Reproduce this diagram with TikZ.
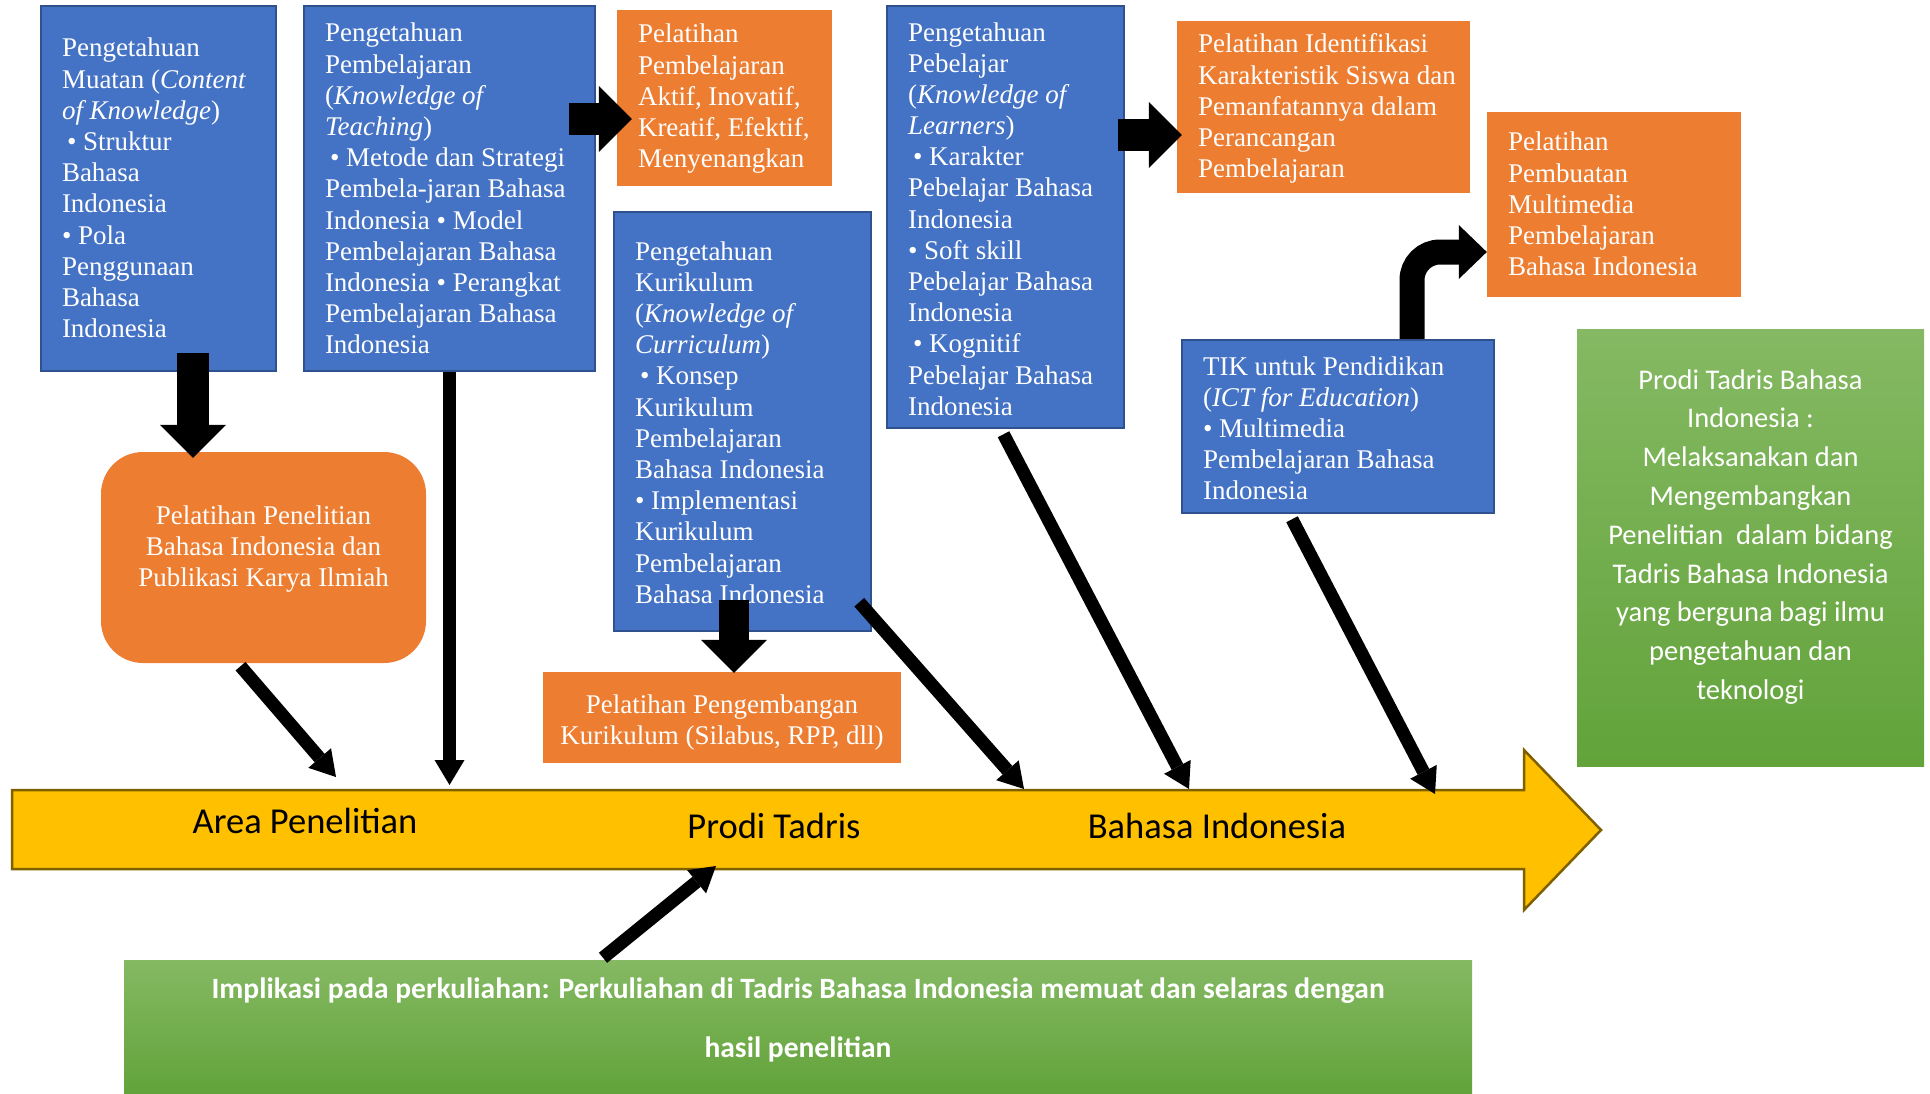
\documentclass[tikz,border=0pt]{standalone}
\usepackage{fontspec}
\setmainfont{Liberation Serif}
\newfontfamily\calibri{Carlito}
\usetikzlibrary{arrows.meta,calc}

\definecolor{boxblue}{HTML}{4472C4}
\definecolor{boxedge}{HTML}{2F528F}
\definecolor{boxorange}{HTML}{ED7D31}
\definecolor{baryellow}{HTML}{FFC000}
\definecolor{baredge}{HTML}{7F6000}
\definecolor{greentop}{HTML}{85B963}
\definecolor{greenbot}{HTML}{62A33A}

% text block inside a box: width, height, first baseline, lines
\newcommand{\boxtext}[4]{\parbox[c][#2][t]{#1}{\raggedright\leftskip=21pt\rule{0pt}{#3}#4}}
\newcommand{\boxmid}[4]{\parbox[c][#2][t]{#1}{\centering\rule{0pt}{#3}#4}}

\begin{document}
\begin{tikzpicture}[x=1pt,y=-1pt]
    \tikzstyle{every node}=[inner sep=0pt,text=white,font=\fontsize{27}{31.2}\selectfont]
    \tikzstyle{bluebox}=[draw=boxedge,line width=2.5pt,fill=boxblue]
    \tikzstyle{orangebox}=[fill=boxorange]
    \tikzstyle{greenbox}=[top color=greentop,bottom color=greenbot,font=\calibri\fontsize{28.5}{38.8}\selectfont]
    \tikzstyle{barlabel}=[anchor=base,text=black,font=\calibri\fontsize{36.5}{40}\selectfont]
    \tikzstyle{bigarrow}=[line width=32pt,-{Triangle[width=66pt,length=33pt,line width=0pt]}]
    \tikzstyle{linkarrow}=[line width=13pt,-{Triangle[width=30pt,length=25pt,line width=0pt]}]
    \tikzstyle{bentarrow}=[line width=25pt,rounded corners=28pt,-{Triangle[width=54pt,length=28pt,line width=0pt]}]
    \useasboundingbox (0,0) rectangle (1930,1094);

    % the long yellow arrow
    \draw[fill=baryellow,draw=baredge,line width=2.5pt] (12,790) -- (1524,790) -- (1524,750)
        -- (1601,830) -- (1524,910) -- (1524,869) -- (12,869) -- cycle;
    \draw (305,833) node[barlabel] (lblarea) {Area Penelitian};
    \draw (774,838) node[barlabel] (lblprodi) {Prodi Tadris};
    \draw (1217,838) node[barlabel] (lblbahasa) {Bahasa Indonesia};

    % knowledge boxes
    \draw (158.5,188.5) node[bluebox] (muatan) {\boxtext{235pt}{365pt}{51pt}{Pengetahuan\\Muatan (\textit{Content}\\\textit{of Knowledge})\\\hspace*{5pt}• Struktur\\Bahasa\\Indonesia\\• Pola\\Penggunaan\\Bahasa\\Indonesia}};
    \draw (449.5,188.5) node[bluebox] (pembelajaran) {\boxtext{291pt}{365pt}{36pt}{Pengetahuan\\Pembelajaran\\(\textit{Knowledge of}\\\textit{Teaching})\\\hspace*{5pt}• Metode dan Strategi\\Pembela-jaran Bahasa\\Indonesia • Model\\Pembelajaran Bahasa\\Indonesia • Perangkat\\Pembelajaran Bahasa\\Indonesia}};
    \draw (1005.5,217) node[bluebox] (pebelajar) {\boxtext{237pt}{422pt}{35pt}{Pengetahuan\\Pebelajar\\(\textit{Knowledge of}\\\textit{Learners})\\\hspace*{5pt}• Karakter\\Pebelajar Bahasa\\Indonesia\\• Soft skill\\Pebelajar Bahasa\\Indonesia\\\hspace*{5pt}• Kognitif\\Pebelajar Bahasa\\Indonesia}};
    \draw (742.5,421.5) node[bluebox] (kurikulum) {\boxtext{257pt}{419pt}{48pt}{Pengetahuan\\Kurikulum\\(\textit{Knowledge of}\\\textit{Curriculum})\\\hspace*{5pt}• Konsep\\Kurikulum\\Pembelajaran\\Bahasa Indonesia\\• Implementasi\\Kurikulum\\Pembelajaran\\Bahasa Indonesia}};
    \draw (1338,426.5) node[bluebox] (tik) {\boxtext{312pt}{173pt}{35pt}{TIK untuk Pendidikan\\(\textit{ICT for Education})\\• Multimedia\\Pembelajaran Bahasa\\Indonesia}};

    % trainings
    \draw (724.5,98) node[orangebox] (aktif) {\boxtext{215pt}{176pt}{33pt}{Pelatihan\\Pembelajaran\\Aktif, Inovatif,\\Kreatif, Efektif,\\Menyenangkan}};
    \draw (1323.5,107) node[orangebox] (identifikasi) {\boxtext{293pt}{172pt}{32pt}{Pelatihan Identifikasi\\Karakteristik Siswa dan\\Pemanfatannya dalam\\Perancangan\\Pembelajaran}};
    \draw (1614,204.5) node[orangebox] (multimedia) {\boxtext{254pt}{185pt}{39pt}{Pelatihan\\Pembuatan\\Multimedia\\Pembelajaran\\Bahasa Indonesia}};
    \draw (263.5,557.5) node[orangebox,rounded corners=42pt] (penelitian) {\boxmid{325pt}{211pt}{72pt}{Pelatihan Penelitian\\Bahasa Indonesia dan\\Publikasi Karya Ilmiah}};
    \draw (722,717.5) node[orangebox] (pengembangan) {\boxmid{358pt}{91pt}{41pt}{Pelatihan Pengembangan\\Kurikulum (Silabus, RPP, dll)}};

    % green notes
    \draw (1750.5,547.5) node[greenbox] (prodi) {\boxmid{347pt}{437pt}{60pt}{Prodi Tadris Bahasa\\Indonesia :\\Melaksanakan dan\\Mengembangkan\\Penelitian\ \ dalam bidang\\Tadris Bahasa Indonesia\\yang berguna bagi ilmu\\pengetahuan dan\\teknologi}};
    \draw (798,1027) node[greenbox,font=\calibri\bfseries\fontsize{29.5}{59}\selectfont] (implikasi) {\boxmid{1348pt}{134pt}{38pt}{Implikasi pada perkuliahan: Perkuliahan di Tadris Bahasa Indonesia memuat dan selaras dengan\\hasil penelitian}};

    % arrows to the trainings
    \coordinate (m1) at (193,353);
    \coordinate (p1) at (569,119);
    \coordinate (q1) at (1118,135);
    \coordinate (k1) at (734,600);
    \draw[bigarrow] (m1) -- ($(m1 |- penelitian.north)+(0,6)$);
    \draw[bigarrow] (p1) -- ($(p1 -| aktif.west)+(15,0)$);
    \draw[bigarrow] (q1) -- ($(q1 -| identifikasi.west)+(5,0)$);
    \draw[bigarrow,line width=30pt] (k1) -- ($(k1 |- pengembangan.north)+(0,1)$);
    \draw[bentarrow] ($(tik.north)+(74,0)$) |- ($(multimedia.west)+(0,47.5)$);

    % arrows onto the yellow arrow
    \coordinate (barA) at (336,777);
    \coordinate (barB) at (449.5,785);
    \coordinate (barC) at (1024,789);
    \coordinate (barD) at (1189,789);
    \coordinate (barE) at (1435,794);
    \coordinate (barF) at (716,866);
    \draw[linkarrow] ($(penelitian.south)+(-23,3)$) -- (barA);
    \draw[linkarrow] (pembelajaran.south) -- (barB);
    \draw[linkarrow] ($(kurikulum.south east)+(-13,-30)$) -- (barC);
    \draw[linkarrow] ($(pebelajar.south)+(-2,5)$) -- (barD);
    \draw[linkarrow] ($(tik.south)+(-46,5)$) -- (barE);
    \draw[linkarrow] ($(implikasi.north)+(-195,-2)$) -- (barF);
\end{tikzpicture}
\end{document}
